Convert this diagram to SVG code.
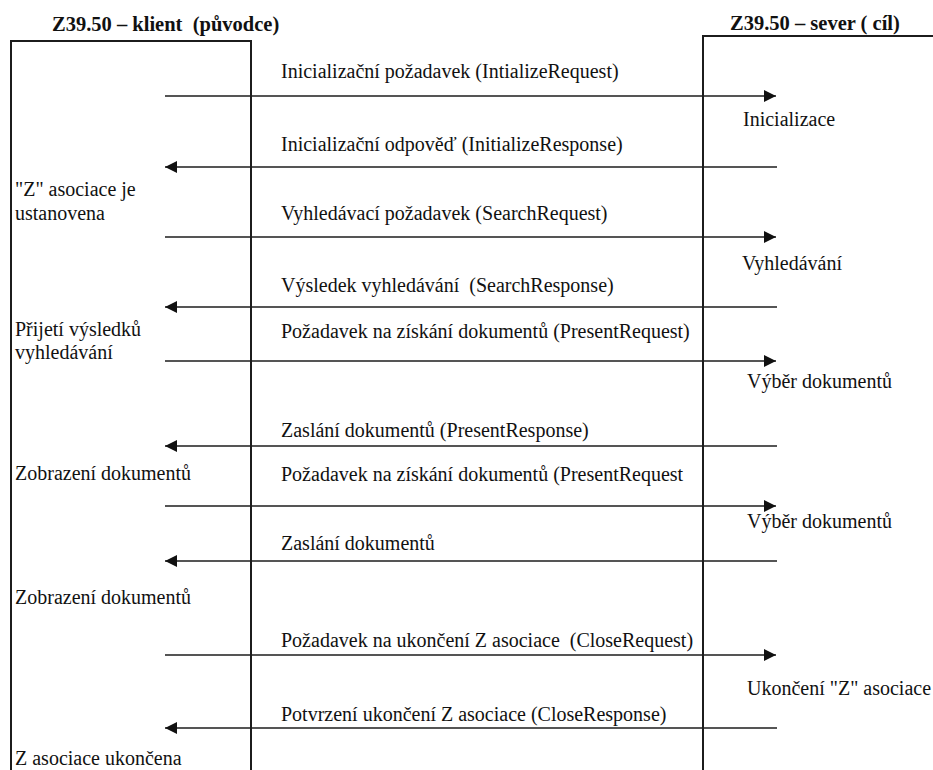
<svg xmlns="http://www.w3.org/2000/svg" width="933" height="770" viewBox="0 0 933 770" font-family="'Liberation Serif', serif">
  <defs>
    <style>
      text { font-size: 20px; fill: #111; white-space: pre; }
      .hdr { font-weight: bold; font-size: 20.5px; }
      .frame { fill: none; stroke: #1c1c1c; stroke-width: 2; }
      .msg { fill: none; stroke: #1c1c1c; stroke-width: 1.6; }
    </style>
    <marker id="head" markerUnits="userSpaceOnUse" markerWidth="14" markerHeight="14" refX="12" refY="6" orient="auto">
      <path d="M0,0 L12,6 L0,12 Z" fill="#111"/>
    </marker>
  </defs>
  <rect width="933" height="770" fill="#fff"/>

  <!-- Client side (originator) -->
  <g id="client">
    <text class="hdr" x="52" y="31">Z39.50 – klient  (původce)</text>
    <path class="frame" d="M11,770 V41 H251 V770"/>
    <text x="15" y="196">"Z" asociace je</text>
    <text x="15" y="220">ustanovena</text>
    <text x="15" y="336">Přijetí výsledků</text>
    <text x="15" y="359">vyhledávání</text>
    <text x="15" y="480">Zobrazení dokumentů</text>
    <text x="15" y="604">Zobrazení dokumentů</text>
    <text x="15" y="765">Z asociace ukončena</text>
  </g>

  <!-- Server side (target) -->
  <g id="server">
    <text class="hdr" x="730" y="30">Z39.50 – sever ( cíl)</text>
    <path class="frame" d="M703,770 V36 H933"/>
    <text x="743" y="126">Inicializace</text>
    <text x="742" y="270">Vyhledávání</text>
    <text x="747" y="388">Výběr dokumentů</text>
    <text x="747" y="528">Výběr dokumentů</text>
    <text x="747" y="695">Ukončení "Z" asociace</text>
  </g>

  <!-- Messages between client and server -->
  <g id="connectors">
    <path class="msg" d="M165,96 H776" marker-end="url(#head)"/>
    <text x="281" y="78">Inicializační požadavek (IntializeRequest)</text>

    <path class="msg" d="M777,167 H165" marker-end="url(#head)"/>
    <text x="281" y="151">Inicializační odpověď (InitializeResponse)</text>

    <path class="msg" d="M165,237 H776" marker-end="url(#head)"/>
    <text x="281" y="220">Vyhledávací požadavek (SearchRequest)</text>

    <path class="msg" d="M777,307 H165" marker-end="url(#head)"/>
    <text x="281" y="292">Výsledek vyhledávání  (SearchResponse)</text>

    <path class="msg" d="M165,361 H776" marker-end="url(#head)"/>
    <text x="281" y="338">Požadavek na získání dokumentů (PresentRequest)</text>

    <path class="msg" d="M777,446 H165" marker-end="url(#head)"/>
    <text x="281" y="437">Zaslání dokumentů (PresentResponse)</text>

    <path class="msg" d="M165,506 H776" marker-end="url(#head)"/>
    <text x="281" y="481">Požadavek na získání dokumentů (PresentRequest</text>

    <path class="msg" d="M777,561 H165" marker-end="url(#head)"/>
    <text x="281" y="550">Zaslání dokumentů</text>

    <path class="msg" d="M165,655 H776" marker-end="url(#head)"/>
    <text x="281" y="647">Požadavek na ukončení Z asociace  (CloseRequest)</text>

    <path class="msg" d="M777,728 H165" marker-end="url(#head)"/>
    <text x="281" y="721">Potvrzení ukončení Z asociace (CloseResponse)</text>
  </g>
</svg>
